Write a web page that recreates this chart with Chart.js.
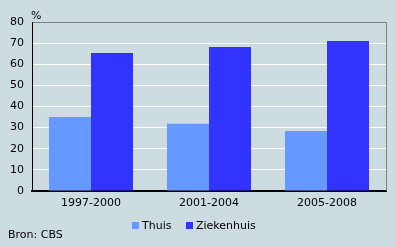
<!DOCTYPE html>
<html><head><meta charset="utf-8">
<script src="https://cdn.jsdelivr.net/npm/chart.js@4"></script>
<style>
html,body{margin:0;padding:0;background:#cddce1;}
#wrap{width:396px;height:247px;position:relative;}
</style></head>
<body><div id="wrap"><canvas id="c" width="396" height="247"></canvas></div>
<script>
const categories = ["1997-2000", "2001-2004", "2005-2008"];
const thuis = [35.0, 31.8, 28.4];
const ziekenhuis = [65.3, 68.2, 71.0];
const seriesNames = ["Thuis", "Ziekenhuis"];
const yTicks = [0, 10, 20, 30, 40, 50, 60, 70, 80];
const unitLabel = "%";
const sourceText = "Bron: CBS";

const FONT = "'DejaVu Sans', Verdana, sans-serif";
Chart.defaults.font.family = FONT;
Chart.defaults.font.size = 11;
Chart.defaults.color = "#000";

const decor = {
  id: "decor",
  beforeDraw(chart) {
    const ctx = chart.ctx;
    ctx.save();
    ctx.fillStyle = "#cddce1";
    ctx.fillRect(0, 0, chart.width, chart.height);
    ctx.restore();
  },
  afterDraw(chart) {
    const ctx = chart.ctx, a = chart.chartArea;
    ctx.save();
    ctx.strokeStyle = "#808080";
    ctx.lineWidth = 1;
    ctx.beginPath();
    ctx.moveTo(Math.round(a.right) + 0.5, a.top);
    ctx.lineTo(Math.round(a.right) + 0.5, a.bottom);
    ctx.stroke();
    ctx.fillStyle = "#000";
    ctx.font = "11px " + FONT;
    ctx.textBaseline = "alphabetic";
    ctx.textAlign = "left";
    ctx.fillText(unitLabel, 31, 19);
    ctx.fillText(sourceText, 8, 238);
    const ds = chart.data.datasets;
    const xs = [132, 186];
    ds.forEach((d, i) => {
      const x = xs[i];
      ctx.fillStyle = d.backgroundColor;
      ctx.fillRect(x, 222, 7, 7);
      ctx.fillStyle = "#000";
      ctx.fillText(d.label, x + 10, 229);
    });
    ctx.restore();
  }
};

new Chart(document.getElementById("c"), {
  type: "bar",
  data: {
    labels: categories,
    datasets: [
      { label: seriesNames[0], data: thuis, backgroundColor: "#6699ff" },
      { label: seriesNames[1], data: ziekenhuis, backgroundColor: "#3333ff" }
    ]
  },
  options: {
    responsive: false,
    animation: false,
    devicePixelRatio: 1,
    layout: { padding: { top: 22, right: 10, left: 0, bottom: 0 } },
    plugins: { legend: { display: false }, tooltip: { enabled: false } },
    datasets: { bar: { categoryPercentage: 0.712, barPercentage: 1, borderWidth: 0 } },
    scales: {
      x: {
        grid: { display: false, drawTicks: false },
        border: { color: "#000", width: 2 },
        ticks: { padding: 6, font: { size: 11 } },
        afterFit(s) { s.height = 56; }
      },
      y: {
        min: 0, max: 80,
        afterBuildTicks(s) { s.ticks = yTicks.map(v => ({ value: v })); },
        grid: {
          drawTicks: false,
          color: c => (c.tick && c.tick.value === 80) ? "#808080" : "#ffffff",
          lineWidth: 1
        },
        border: { color: "#000", width: 1 },
        ticks: { padding: 8, font: { size: 11 } },
        afterFit(s) { s.width = 32; }
      }
    }
  },
  plugins: [decor]
});
</script>
</body></html>
